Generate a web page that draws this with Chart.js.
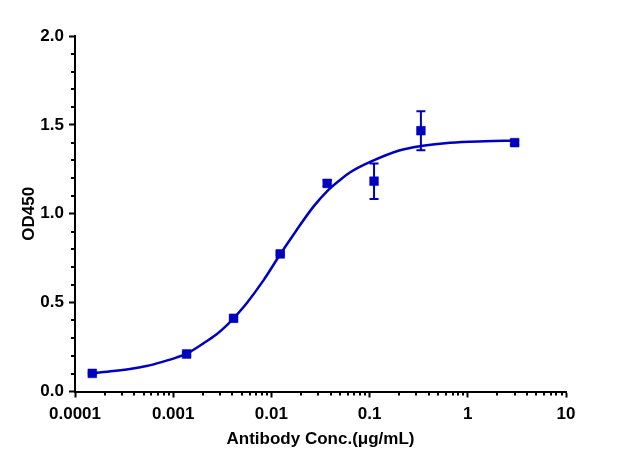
<!DOCTYPE html>
<html>
<head>
<meta charset="utf-8">
<script src="https://cdn.jsdelivr.net/npm/chart.js@4/dist/chart.umd.min.js"></script>
<style>
  body { margin: 0; background: #fff; }
  canvas { display: block; }
</style>
</head>
<body>
<canvas id="myChart" width="623" height="470"></canvas>
<script>
// measured points (mean +/- error)
var conc = [0.00015, 0.00137, 0.00412, 0.0123, 0.037, 0.111, 0.333, 3];
var od = [0.102, 0.211, 0.412, 0.774, 1.171, 1.183, 1.467, 1.400];
var odErr = [0.006, 0.008, 0.008, 0.008, 0.018, 0.100, 0.110, 0.012];

// fitted curve
var fitX = [0.00015, 0.000245, 0.000363, 0.000537, 0.00079, 0.00109, 0.00137, 0.00203, 0.00277, 0.00351, 0.00412,
            0.0056, 0.0083, 0.0123, 0.0181, 0.0268, 0.0366, 0.05, 0.063, 0.1, 0.2, 0.333, 0.66, 1.5, 3];
var fitY = [0.103, 0.115, 0.127, 0.143, 0.168, 0.192, 0.213, 0.271, 0.322, 0.372, 0.412,
            0.497, 0.625, 0.772, 0.909, 1.040, 1.125, 1.190, 1.232, 1.290, 1.356, 1.381, 1.400, 1.408, 1.411];

var xMajor = [0.0001, 0.001, 0.01, 0.1, 1, 10];
var xMajorLabels = ['0.0001', '0.001', '0.01', '0.1', '1', '10'];
var yMajor = [0, 0.5, 1.0, 1.5, 2.0];

var blue = 'rgb(0,0,192)';
var font = { family: 'Liberation Sans, Arial, sans-serif', size: 17, weight: 'bold', lineHeight: 1.2 };

var pts = [], curve = [];
for (var i in conc) pts.push({ x: conc[i], y: od[i] });
for (var j in fitX) curve.push({ x: fitX[j], y: fitY[j] });

// error bars and minor ticks, drawn through the chart scales
var extras = {
    id: 'extras',
    beforeDatasetsDraw: function (chart) {
        var c = chart.ctx, xs = chart.scales.x, ys = chart.scales.y;
        c.save();
        c.strokeStyle = blue;
        c.lineWidth = 2;
        for (var i = 0; i < conc.length; i++) {
            var px = xs.getPixelForValue(conc[i]);
            var top = ys.getPixelForValue(od[i] + odErr[i]);
            var bot = ys.getPixelForValue(od[i] - odErr[i]);
            c.beginPath();
            c.moveTo(px, top); c.lineTo(px, bot);
            c.moveTo(px - 4.5, top); c.lineTo(px + 4.5, top);
            c.moveTo(px - 4.5, bot); c.lineTo(px + 4.5, bot);
            c.stroke();
        }
        c.restore();
    },
    afterDraw: function (chart) {
        var c = chart.ctx, xs = chart.scales.x, ys = chart.scales.y;
        var a = chart.chartArea;
        c.save();
        c.strokeStyle = '#000';
        c.lineWidth = 2;
        c.beginPath();
        for (var d = 0.0001; d < 10; d *= 10) {
            for (var k = 2; k <= 9; k++) {
                var px = Math.round(xs.getPixelForValue(k * d));
                c.moveTo(px, a.bottom); c.lineTo(px, a.bottom + 4);
            }
        }
        for (var v = 1; v < 20; v++) {
            if (v % 5 === 0) continue;
            var py = Math.round(ys.getPixelForValue(v / 10));
            c.moveTo(a.left - 4, py); c.lineTo(a.left, py);
        }
        c.stroke();
        c.restore();
    }
};

var ctx = document.getElementById('myChart');
var chart = new Chart(ctx, {
    type: 'scatter',
    data: {
        datasets: [{
            label: 'fit',
            data: curve,
            showLine: true,
            borderColor: blue,
            borderWidth: 2.5,
            pointRadius: 0,
            cubicInterpolationMode: 'monotone',
            fill: false
        }, {
            label: 'OD450',
            data: pts,
            showLine: false,
            pointStyle: 'rect',
            pointRadius: 6.2,
            pointBackgroundColor: blue,
            pointBorderColor: blue,
            pointBorderWidth: 0.5
        }]
    },
    options: {
        responsive: false,
        animation: false,
        layout: { padding: { left: 0, right: 57, top: 36, bottom: 0 } },
        plugins: {
            legend: { display: false },
            tooltip: { enabled: false }
        },
        scales: {
            x: {
                type: 'logarithmic',
                min: 0.0001,
                max: 10,
                afterBuildTicks: function (s) {
                    s.ticks = xMajor.map(function (v) { return { value: v }; });
                },
                afterFit: function (s) { s.height = 78.5; },
                ticks: {
                    color: '#000',
                    font: font,
                    padding: 7,
                    maxRotation: 0,
                    autoSkip: false,
                    callback: function (v) {
                        var k = xMajor.indexOf(v);
                        return k >= 0 ? xMajorLabels[k] : '';
                    }
                },
                grid: { drawOnChartArea: false, drawTicks: true, tickLength: 6, tickWidth: 2, tickColor: '#000', color: '#000' },
                border: { display: true, color: '#000', width: 2 },
                title: { display: true, text: 'Antibody Conc.(μg/mL)', color: '#000', font: font, padding: { top: 0, bottom: 20 } }
            },
            y: {
                min: 0,
                max: 2,
                afterBuildTicks: function (s) {
                    s.ticks = yMajor.map(function (v) { return { value: v }; });
                },
                afterFit: function (s) { s.width = 75; },
                ticks: {
                    color: '#000',
                    font: font,
                    padding: 5,
                    callback: function (v) { return v.toFixed(1); }
                },
                grid: { drawOnChartArea: false, drawTicks: true, tickLength: 6, tickWidth: 2, tickColor: '#000', color: '#000' },
                border: { display: true, color: '#000', width: 2 },
                title: { display: true, text: 'OD450', color: '#000', font: font, padding: { top: 19, bottom: 0 } }
            }
        }
    },
    plugins: [extras]
});
</script>
</body>
</html>
